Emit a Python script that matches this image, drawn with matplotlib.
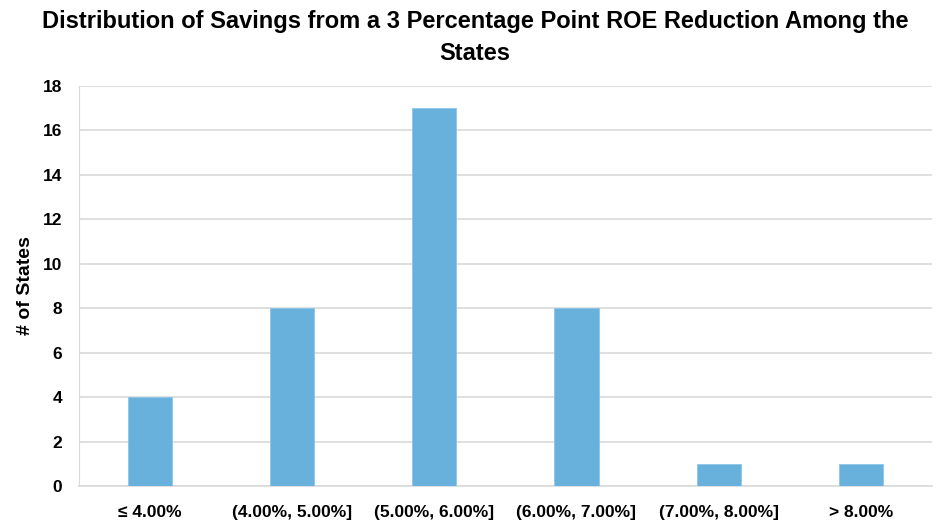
import matplotlib.pyplot as plt
import matplotlib.font_manager as fm

categories = ["≤ 4.00%", "(4.00%, 5.00%]", "(5.00%, 6.00%]", "(6.00%, 7.00%]", "(7.00%, 8.00%]", "> 8.00%"]
counts = [4, 8, 17, 8, 1, 1]
title = "Distribution of Savings from a 3 Percentage Point ROE Reduction Among the\nStates"
ylabel = "# of States"

names = {f.name for f in fm.fontManager.ttflist}
title_family = ["Liberation Sans Narrow", "DejaVu Sans"] if "Liberation Sans Narrow" in names else ["Liberation Sans", "DejaVu Sans"]
plt.rcParams["font.family"] = ["Liberation Sans", "DejaVu Sans"]

fig = plt.figure(figsize=(9.5, 5.3), dpi=100)
ax = fig.add_axes([0.083, 0.083, 0.898, 0.755])

x = range(len(categories))
ax.bar(x, counts, width=0.31, color="#69B1DD", edgecolor="#8CC6EA", linewidth=0.6, zorder=3)

ax.set_xlim(-0.5, len(categories) - 0.5)
ax.set_ylim(0, 18)
ax.set_yticks(range(0, 19, 2))
ax.set_xticks(list(x))
ax.set_xticklabels(categories)
ax.grid(axis="y", color="#D9D9D9", linewidth=1.2, zorder=0)
for side in ["top", "right"]:
    ax.spines[side].set_visible(False)
ax.spines["left"].set_color("#D9D9D9")
ax.spines["bottom"].set_color("#D9D9D9")
ax.spines["bottom"].set_linewidth(1.2)
ax.tick_params(length=0, labelsize=12.5)
ax.tick_params(axis="x", pad=14)
ax.tick_params(axis="y", pad=12)
for lbl in ax.get_xticklabels() + ax.get_yticklabels():
    lbl.set_fontweight("bold")

ax.set_ylabel(ylabel, fontsize=14, fontweight="bold", family=title_family, labelpad=6)
fig.text(0.5, 0.982, title, ha="center", va="top", fontsize=17, fontweight="bold",
         family=title_family, linespacing=1.5)

fig.savefig("out.png", dpi=100)
